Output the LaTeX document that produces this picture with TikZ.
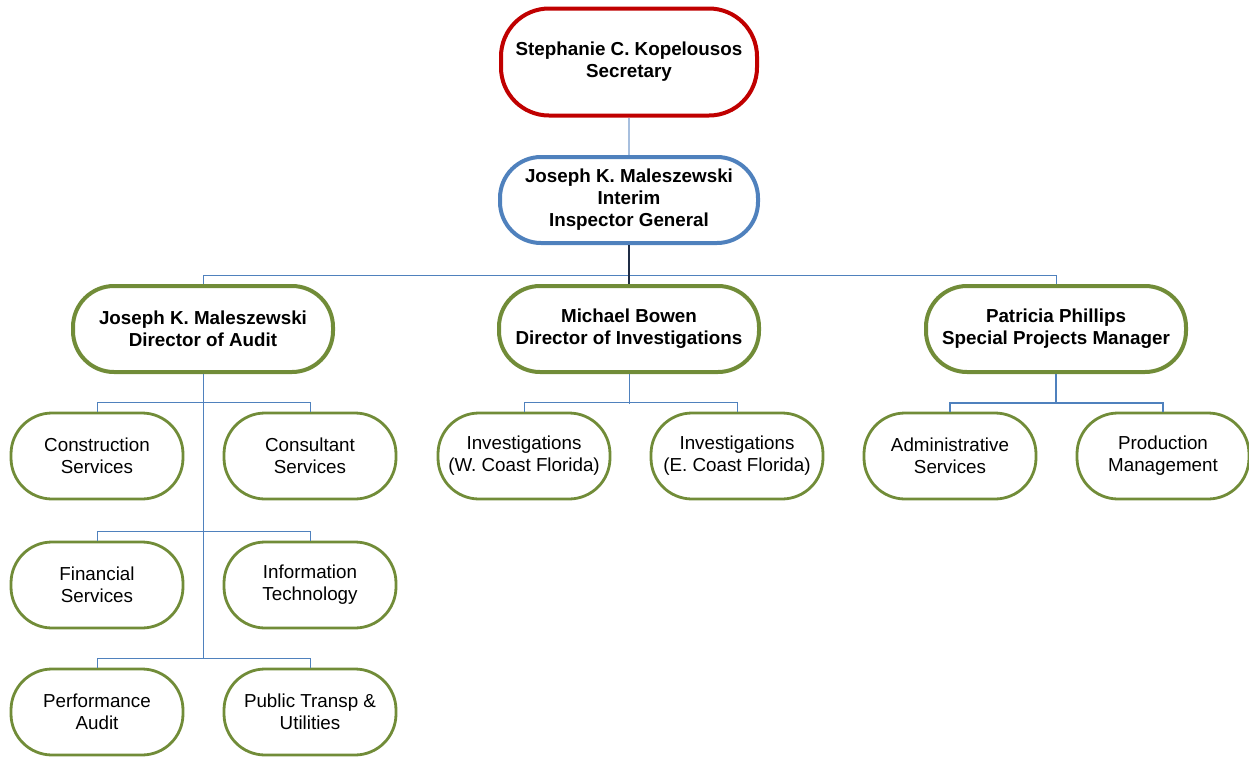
\documentclass[tikz,border=0pt]{standalone}
\usepackage{fontspec}
\setmainfont{Liberation Sans}
\usepackage{tikz}
\usetikzlibrary{positioning,calc}
\definecolor{secred}{RGB}{192, 0, 0}
\definecolor{igblue}{RGB}{79, 129, 189}
\definecolor{paleblue}{RGB}{167, 191, 222}
\definecolor{darknavy}{RGB}{31, 45, 70}
\definecolor{olivegreen}{RGB}{113, 140, 56}

\begin{document}
\begin{tikzpicture}[x=0.5pt,y=-0.5pt,
    font=\fontsize{9.4}{11}\selectfont,
    unit/.style={draw=olivegreen,line width=1.4pt,fill=white,rounded corners=20.5pt,
      minimum width=86pt,minimum height=43pt,align=center,inner sep=1pt},
    head/.style={unit,line width=2pt,minimum width=130pt,font=\fontsize{9.4}{11}\selectfont\bfseries},
    link/.style={draw=igblue,line width=0.5pt}]
    \useasboundingbox (0,0) rectangle (1249,756);
    \node[head,draw=secred,minimum width=128pt,minimum height=53.5pt,rounded corners=24pt] (sec) at (629,62) {Stephanie C. Kopelousos\\Secretary};
    \node[head,draw=igblue,minimum width=129pt] (ig) at (629,200) {Joseph K. Maleszewski\\Interim\\Inspector General};
    \node[head] (audit) at (203,329) {Joseph K. Maleszewski\\Director of Audit};
    \node[head] (dirinv) at (629,329) {Michael Bowen\\Director of Investigations};
    \node[head] (spm) at (1056,329) {Patricia Phillips\\Special Projects Manager};
    \node[unit] (constr) at (97,456) {Construction\\Services};
    \node[unit] (consult) at (310,456) {Consultant\\Services};
    \node[unit] (fin) at (97,585) {Financial\\Services};
    \node[unit] (info) at (310,585) {Information\\Technology};
    \node[unit] (perf) at (97,712) {Performance\\Audit};
    \node[unit] (pub) at (310,712) {Public Transp \&\\Utilities};
    \node[unit] (invw) at (524,456) {Investigations\\(W. Coast Florida)};
    \node[unit] (inve) at (737,456) {Investigations\\(E. Coast Florida)};
    \node[unit] (admin) at (950,456) {Administrative\\Services};
    \node[unit] (prod) at (1163,456) {Production\\Management};
    \coordinate (bus) at (629,275);
    \coordinate (auditend) at (203,659);
    \draw[link,draw=paleblue,line width=1pt] (sec) -- (ig);
    \draw[link] (audit.north) -- (audit.north |- bus) -- (spm.north |- bus) -- (spm.north);
    \draw[darknavy,line width=1pt] (ig) -- (dirinv);
    \draw[link] (audit) -- (auditend);
    \foreach \a/\b in {constr/consult,fin/info,perf/pub,invw/inve}
      \draw[link] (\a.north) -- ++(0,-9) -| (\b.north);
    \draw[link] (dirinv) -- ++(0,75);
    \draw[link,line width=1pt] (admin.north) -- ++(0,-9) -| (prod.north);
    \draw[link,line width=1pt] (spm) -- ++(0,75);
\end{tikzpicture}
\end{document}
